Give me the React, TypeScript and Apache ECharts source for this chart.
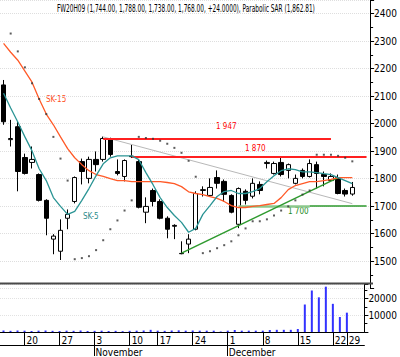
import React, { useEffect, useRef } from 'react';
import * as echarts from 'echarts';

const dates = [
  '10-15', '10-16', '10-17', '10-20', '10-21', '10-22', '10-23', '10-24', '10-27', '10-28',
  '10-29', '10-30', '10-31', '11-03', '11-04', '11-05', '11-06', '11-07', '11-10', '11-12',
  '11-13', '11-14', '11-17', '11-18', '11-19', '11-20', '11-21', '11-24', '11-25', '11-26',
  '11-27', '11-28', '12-01', '12-02', '12-03', '12-04', '12-05', '12-08', '12-09', '12-10',
  '12-11', '12-12', '12-15', '12-16', '12-17', '12-18', '12-19', '12-22', '12-23', '12-29',
  '12-30', '12-31',
];
const opens = [
  2141, 1942, 1989, 1877, 1859, 1815, 1721, 1580, 1536, 1656,
  1717, 1862, 1801, 1870, 1870, 1946, 1826, 1808, 1882, 1862,
  1678, 1757, 1717, 1656, 1630, 1528, 1562, 1616, 1757, 1739,
  1804, 1790, 1739, 1634, 1754, 1736, 1779, 1855, 1819, 1859,
  1830, 1783, 1830, 1808, 1851, 1815, 1793, 1804, 1757, 1744,
];
const closes = [
  2007, 1946, 1826, 1819, 1870, 1721, 1656, 1591, 1612, 1670,
  1804, 1826, 1870, 1851, 1946, 1888, 1819, 1866, 1880, 1696,
  1699, 1717, 1656, 1616, 1627, 1527, 1580, 1746, 1760, 1768,
  1783, 1743, 1678, 1764, 1721, 1783, 1757, 1859, 1855, 1815,
  1851, 1801, 1808, 1855, 1819, 1808, 1808, 1746, 1744, 1768,
];
const lows = [
  1996, 1917, 1754, 1815, 1837, 1717, 1594, 1525, 1504, 1616,
  1710, 1779, 1783, 1826, 1862, 1880, 1812, 1790, 1875, 1692,
  1638, 1699, 1652, 1583, 1580, 1525, 1529, 1612, 1735, 1735,
  1764, 1717, 1674, 1620, 1706, 1728, 1743, 1837, 1815, 1808,
  1801, 1779, 1801, 1804, 1764, 1772, 1790, 1743, 1735, 1738,
];
const highs = [
  2159, 2014, 2007, 1891, 1917, 1819, 1725, 1598, 1652, 1688,
  1808, 1873, 1880, 1899, 1953, 1949, 1870, 1870, 1924, 1870,
  1732, 1764, 1725, 1663, 1634, 1572, 1598, 1754, 1772, 1801,
  1830, 1797, 1743, 1768, 1761, 1801, 1790, 1866, 1862, 1880,
  1855, 1815, 1837, 1870, 1862, 1826, 1819, 1815, 1764, 1788,
];
const volumes = [
  900, 700, 900, 800, 600, 800, 900, 700, 600, 800,
  700, 900, 600, 700, 800, 600, 700, 500, 700, 800,
  900, 1300, 800, 700, 900, 1000, 800, 900, 800, 800,
  800, 300, 800, 1200, 800, 800, 800, 800, 1200, 1300,
  1300, 1300, 1800, 16500, 24900, 20800, 27200, 16900, 9000, 11600,
];
const sk15 = [
  2292, 2260, 2231, 2191, 2151, 2090, 2035, 1996, 1952, 1909,
  1876, 1851, 1829, 1815, 1808, 1800, 1793, 1793, 1789, 1789,
  1789, 1789, 1789, 1786, 1782, 1771, 1752, 1746, 1742, 1735,
  1728, 1717, 1702, 1695, 1695, 1699, 1702, 1706, 1710, 1731,
  1760, 1775, 1782, 1789, 1789, 1793, 1797, 1804, 1804, 1804,
];
const sk5 = [
  2111, 2057, 2006, 1952, 1901, 1836, 1793, 1731, 1699, 1670,
  1681, 1721, 1764, 1811, 1854, 1876, 1883, 1883, 1883, 1869,
  1822, 1778, 1731, 1695, 1666, 1641, 1605, 1619, 1670, 1702,
  1735, 1753, 1757, 1746, 1746, 1753, 1764, 1789, 1811, 1829,
  1836, 1833, 1825, 1825, 1822, 1818, 1815, 1804, 1793, 1782,
];
const sar = [
  null, 2328, 2263, 2205, 2147, 2090, 2035, 1952, 1873, 1793,
  1507, 1511, 1518, 1540, 1576, 1616, 1648, 1684, 1721, 1952,
  1948, 1945, 1938, 1927, 1912, 1894, 1865, 1807, 1529, 1536,
  1547, 1558, 1572, 1594, 1619, 1645, 1645, 1652, 1666, 1684,
  1699, 1721, 1742, 1757, 1887, 1887, 1887, 1883, 1876, 1863,
];
const weekStarts = ['10-20', '10-27', '11-03', '11-10', '11-17', '11-24', '12-01', '12-08', '12-15', '12-22', '12-29'];
const monthStarts = ['11-03', '12-01'];
const monthNames = ['November', 'December'];
const priceLabels = [1500, 1600, 1700, 1800, 1900, 2000, 2100, 2200, 2300, 2400];
const volumeLabels = [10000, 20000];

// levels and trend lines: [startDate, startValue, endDate, endValue]
const resistance1947 = ['11-04', 1947, '12-19', 1947];
const resistance1870 = ['11-10', 1880, '12-31', 1880];
const support1700a = ['12-02', 1700, '12-16', 1700];
const support1700b = ['12-16', 1700, '12-31', 1700];
const downTrend = ['11-04', 1952, '12-29', 1709];
const upTrend = ['11-20', 1529, '12-22', 1804];

const titleText = 'FW20H09 (1,744.00, 1,788.00, 1,738.00, 1,768.00, +24.0000), Parabolic SAR (1,862.81)';

const NARROW = '"Liberation Sans Narrow", "DejaVu Sans Condensed", "Liberation Sans", sans-serif';

function measure(text: string, font: string): number {
  const c = document.createElement('canvas').getContext('2d');
  if (!c) return text.length * 5;
  c.font = font;
  return c.measureText(text).width;
}

function seg(l: any[], color: string, width: number) {
  return [
    { coord: [l[0], l[1]], lineStyle: { color, width, type: 'solid' } },
    { coord: [l[2], l[3]] },
  ];
}

export default function App() {
  const ref = useRef<HTMLDivElement>(null);
  useEffect(() => {
    if (!ref.current) return;
    const chart = echarts.init(ref.current, null, { renderer: 'svg' });
    const candleData = opens.map((o, i) => [o, closes[i], lows[i], highs[i]]);
    const titleFont = '11px ' + NARROW;
    const tw = measure(titleText, titleFont);
    const titleScale = 258 / tw;
    const dayFmt = (v: string) => String(parseInt(v.split('-')[1], 10));
    const isWeek = (_i: number, v: string) => weekStarts.includes(v);
    const isMonth = (_i: number, v: string) => monthStarts.includes(v);

    const option: any = {
      animation: false,
      backgroundColor: '#ffffff',
      grid: [
        { left: 0, width: 373, top: -1.6, height: 290.2 },
        { left: 0, width: 373, top: 284, height: 49 },
      ],
      xAxis: [
        {
          type: 'category', gridIndex: 0, data: dates, boundaryGap: true,
          axisLine: { show: false }, axisTick: { show: false }, axisLabel: { show: false },
          splitLine: { show: false },
        },
        {
          type: 'category', gridIndex: 1, data: dates, boundaryGap: true,
          axisLine: { show: true, lineStyle: { color: '#000', width: 1 } },
          axisTick: { show: true, interval: isWeek, alignWithLabel: true, length: 13, lineStyle: { color: '#000' } },
          axisLabel: {
            show: true, interval: isWeek, formatter: dayFmt, align: 'left', margin: 3,
            padding: [0, 0, 0, 2], fontSize: 10, color: '#000', fontFamily: NARROW,
          },
          splitLine: { show: false },
        },
        {
          type: 'category', gridIndex: 1, data: dates, boundaryGap: true, position: 'bottom',
          axisLine: { show: false },
          axisTick: { show: true, interval: isMonth, alignWithLabel: true, length: 24, lineStyle: { color: '#000' } },
          axisLabel: {
            show: true, interval: isMonth,
            formatter: (v: string) => monthNames[monthStarts.indexOf(v)] || '',
            align: 'left', margin: 15, padding: [0, 0, 0, 1], fontSize: 10, color: '#000', fontFamily: NARROW,
          },
          splitLine: { show: false },
        },
        {
          type: 'category', gridIndex: 1, data: dates, boundaryGap: true, position: 'bottom', offset: 13,
          axisLine: { show: true, lineStyle: { color: '#000', width: 1 } },
          axisTick: { show: false }, axisLabel: { show: false }, splitLine: { show: false },
        },
      ],
      yAxis: [
        {
          type: 'value', gridIndex: 0, position: 'right', min: 1400, max: 2450, interval: 100,
          axisLine: { show: true, lineStyle: { color: '#000', width: 1 } },
          axisTick: { show: true, length: 4, lineStyle: { color: '#000' } },
          minorTick: { show: true, splitNumber: 2, length: 3, lineStyle: { color: '#000' } },
          axisLabel: {
            show: true, margin: 4, fontSize: 10, color: '#000', fontFamily: NARROW,
            formatter: (v: number) => (priceLabels.includes(v) ? String(v) : ''),
          },
          splitLine: { show: true, lineStyle: { color: '#dedede', type: 'dotted', width: 1 } },
        },
        {
          type: 'value', gridIndex: 1, position: 'right', min: 0, max: 28800, interval: 10000,
          axisLine: { show: true, lineStyle: { color: '#000', width: 1 } },
          axisTick: { show: true, length: 4, lineStyle: { color: '#000' } },
          minorTick: { show: true, splitNumber: 2, length: 3, lineStyle: { color: '#000' } },
          axisLabel: {
            show: true, margin: 4, fontSize: 10, color: '#000', fontFamily: NARROW,
            formatter: (v: number) => (volumeLabels.includes(v) ? String(v) : ''),
          },
          splitLine: { show: true, lineStyle: { color: '#e2e2e2', type: 'dotted', width: 1 } },
        },
      ],
      series: [
        {
          type: 'candlestick', xAxisIndex: 0, yAxisIndex: 0, data: candleData, barWidth: 5,
          itemStyle: { color: '#ffffff', color0: '#000000', borderColor: '#000000', borderColor0: '#000000', borderWidth: 1 },
          z: 2,
          markLine: {
            silent: true, symbol: ['none', 'none'], label: { show: false }, z: 3,
            data: [
              seg(downTrend, '#b8b8b8', 1),
              seg(resistance1947, '#ff2020', 2),
              seg(resistance1870, '#ff2020', 2),
              seg(support1700a, '#8cc88c', 2.5),
              seg(support1700b, '#2e9a2e', 1.5),
              seg(upTrend, '#2e9a2e', 1.5),
            ],
          },
        },
        {
          name: 'SK-15', type: 'line', xAxisIndex: 0, yAxisIndex: 0, data: sk15, symbol: 'none',
          smooth: false, lineStyle: { color: '#ff5a28', width: 1.3 }, z: 4,
        },
        {
          name: 'SK-5', type: 'line', xAxisIndex: 0, yAxisIndex: 0, data: sk5, symbol: 'none',
          smooth: false, lineStyle: { color: '#2a9494', width: 1.3 }, z: 4,
        },
        {
          name: 'SAR', type: 'scatter', xAxisIndex: 0, yAxisIndex: 0, data: sar, symbol: 'rect',
          symbolSize: 2, itemStyle: { color: '#333333' }, z: 5,
        },
        {
          name: 'Volume', type: 'bar', xAxisIndex: 1, yAxisIndex: 1, data: volumes, barWidth: 2,
          itemStyle: { color: '#3232ff' },
        },
      ],
      graphic: [
        {
          type: 'line', shape: { x1: 0, y1: 283.5, x2: 373, y2: 283.5 },
          style: { stroke: '#4a4a4a', lineWidth: 2 }, z: 10,
        },
        {
          type: 'text', x: 57, y: 3, scaleX: titleScale,
          style: { text: titleText, font: titleFont, fill: '#000', textAlign: 'left', textVerticalAlign: 'top' },
        },
        {
          type: 'text', x: 46, y: 95,
          style: { text: 'SK-15', font: '8px ' + NARROW, fill: '#ff5020', textAlign: 'left', textVerticalAlign: 'top' },
        },
        {
          type: 'text', x: 83, y: 212,
          style: { text: 'SK-5', font: '8px ' + NARROW, fill: '#2a8a8a', textAlign: 'left', textVerticalAlign: 'top' },
        },
        {
          type: 'text', x: 216, y: 122,
          style: { text: '1 947', font: '8px ' + NARROW, fill: '#ff0000', textAlign: 'left', textVerticalAlign: 'top' },
        },
        {
          type: 'text', x: 245, y: 144,
          style: { text: '1 870', font: '8px ' + NARROW, fill: '#ff0000', textAlign: 'left', textVerticalAlign: 'top' },
        },
        {
          type: 'text', x: 288, y: 207,
          style: { text: '1 700', font: '8px ' + NARROW, fill: '#1a8a1a', textAlign: 'left', textVerticalAlign: 'top' },
        },
      ],
    };
    chart.setOption(option);
    return () => chart.dispose();
  }, []);
  return <div ref={ref} style={{ position: 'fixed', left: 0, top: 0, width: 400, height: 357 }} />;
}
